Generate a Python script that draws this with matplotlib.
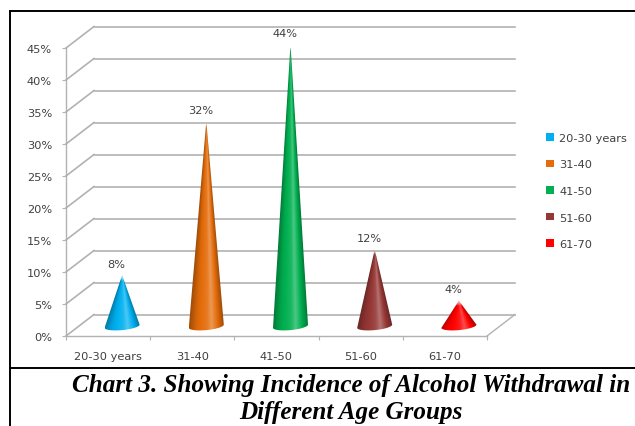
import numpy as np
import matplotlib
matplotlib.use("Agg")
import matplotlib.pyplot as plt
from matplotlib.lines import Line2D
from matplotlib.patches import Polygon, Patch
from matplotlib.colors import to_rgb

categories = ["20-30 years", "31-40", "41-50", "51-60", "61-70"]
values = [8, 32, 44, 12, 4]
labels = ["8%", "32%", "44%", "12%", "4%"]
colors = ["#00B0F0", "#E46C0A", "#00B050", "#953735", "#FF0000"]
yticks = [0, 5, 10, 15, 20, 25, 30, 35, 40, 45]
title_lines = ["Chart 3. Showing Incidence of Alcohol Withdrawal in", "Different Age Groups"]

W, H = 635, 427
fig = plt.figure(figsize=(W / 100, H / 100), dpi=100, facecolor="white")
ax = fig.add_axes([66 / W, (H - 337) / H, 421 / W, 288 / H])
ax.set_xlim(0, 5)
ax.set_ylim(0, 45)
ax.patch.set_alpha(0)

GRID = "#b2b2b2"
TXT = "#404040"
FS = 8.2
DX = 28 / 84.2     # depth shift, category units
DY = 21.5 / 6.4    # depth shift, percent units

# walls: gridlines on the back wall and side wall, floor edge
for v in yticks:
    ax.plot([DX, 5 + DX], [v + DY, v + DY], color=GRID, lw=1.2, clip_on=False, zorder=1)
    ax.plot([0, DX], [v, v + DY], color=GRID, lw=1.2, clip_on=False, zorder=1)
ax.plot([5, 5 + DX], [0, DY], color=GRID, lw=1.0, clip_on=False, zorder=1)

for s in ("top", "right"):
    ax.spines[s].set_visible(False)
for s in ("left", "bottom"):
    ax.spines[s].set_color(GRID)
    ax.spines[s].set_linewidth(1.0)

ax.set_yticks(yticks)
ax.set_yticklabels([f"{v}%" for v in yticks], fontsize=FS, color=TXT)
ax.tick_params(axis="y", color=GRID, length=3, pad=7)
ax.set_xticks(range(6))
ax.set_xticklabels([])
ax.set_xticks(np.arange(5) + 0.5, minor=True)
ax.set_xticklabels(categories, minor=True, fontsize=FS, color=TXT)
ax.tick_params(axis="x", which="major", color=GRID, length=3)
ax.tick_params(axis="x", which="minor", length=0, pad=11)

# cones
A = 17.5 / 84.2   # base half-width in category units
B = 3.9 / 6.4     # base half-height in percent units
K = 1.6 / 6.4     # base tilt
ramp_u = np.array([-1.0, -0.55, 0.05, 0.3, 0.7, 1.0])
ramp_s = np.array([0.70, 0.95, 1.10, 1.30, 0.95, 0.70])
for i, (v, c, lab) in enumerate(zip(values, colors, labels)):
    cx = i + 0.5 + DX / 2
    cy = DY / 2 - 0.15
    top = v + DY / 2 - 0.15
    t = np.linspace(np.pi, 2 * np.pi, 40)
    bx = cx + A * np.cos(t)
    by = cy + B * np.sin(t) + K * np.cos(t)
    outline = np.column_stack([np.r_[cx, bx], np.r_[top, by]])
    poly = Polygon(outline, closed=True, transform=ax.transData, fc="none", ec="none")
    ax.add_patch(poly)
    xs = np.linspace(cx - A, cx + A, 160)
    ys = np.linspace(cy - B - K, top, 600)
    X, Y = np.meshgrid(xs, ys)
    frac = np.clip((top - Y) / (top - cy), 0.002, None)
    u = np.clip((X - cx) / (A * frac), -1, 1)
    s = np.interp(u, ramp_u, ramp_s)
    base = np.array(to_rgb(c))
    rgb = np.where(s[..., None] <= 1, base * s[..., None],
                   base + (1 - base) * (s[..., None] - 1))
    # the very tip fades into the background
    tipfade = np.clip((top - Y) / 0.9, 0.4, 1)[..., None]
    img = np.dstack([rgb * tipfade + (1 - tipfade), np.ones_like(X)])
    im = ax.imshow(img, origin="lower", extent=(xs[0], xs[-1], ys[0], ys[-1]),
                   aspect="auto", zorder=3, interpolation="bilinear")
    im.set_clip_path(poly)
    ax.annotate(lab, (cx, top), xytext=(-4, 8), textcoords="offset points",
                ha="center", va="center", fontsize=FS, color=TXT, annotation_clip=False)
ax.set_xlim(0, 5)
ax.set_ylim(0, 45)

# legend
handles = [Patch(fc=c, ec="none") for c in colors]
fig.legend(handles, categories, loc="center left",
           bbox_to_anchor=(546 / W, 1 - 192 / H), frameon=False, fontsize=FS,
           labelcolor=TXT, handlelength=0.66, handleheight=0.66, handletextpad=0.5,
           labelspacing=1.45, borderpad=0, borderaxespad=0)

# frame
for x0, y0, x1, y1 in [(10, 12, 635, 12), (10, 12, 10, 427), (10, 369, 635, 369)]:
    fig.add_artist(Line2D([x0 / W, x1 / W], [1 - y0 / H, 1 - y1 / H], color="black", lw=1.4))

# caption
for line, yp in zip(title_lines, (386, 413)):
    fig.text(351 / W, 1 - yp / H, line, ha="center", va="center", fontsize=18.1,
             family="Liberation Serif", weight="bold", style="italic", color="black")

fig.savefig("out.png", dpi=100, facecolor="white")
